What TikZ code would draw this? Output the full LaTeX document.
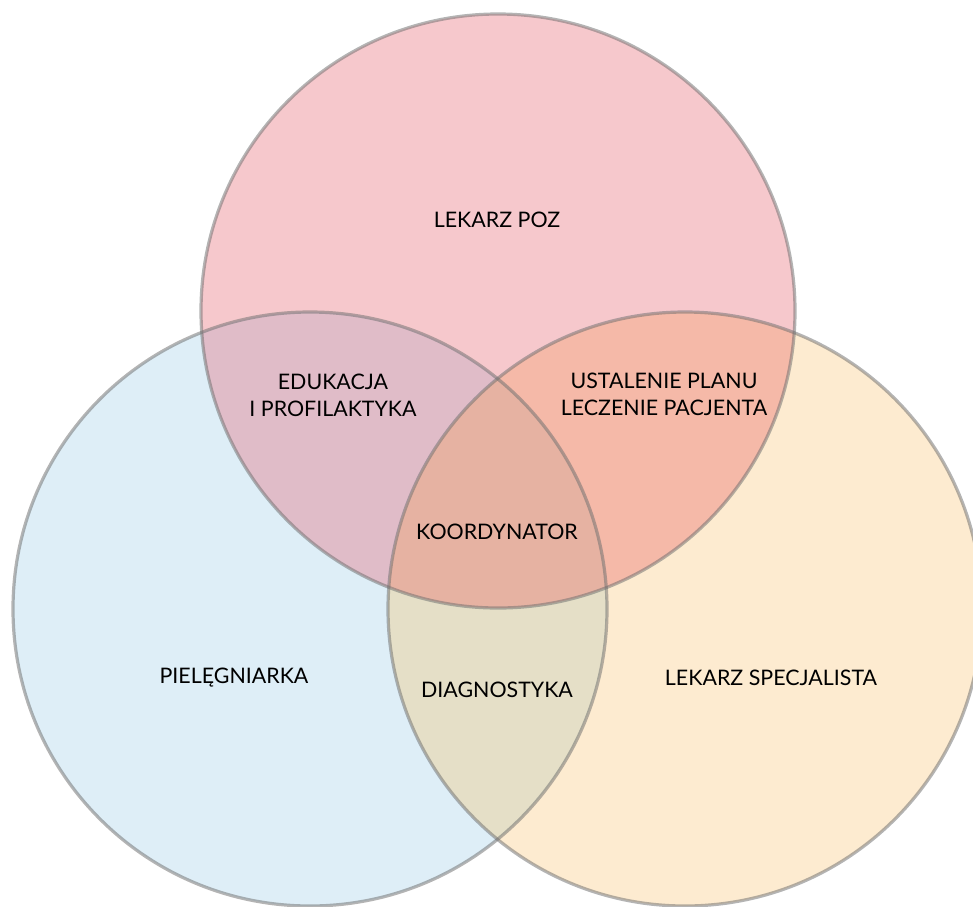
\documentclass[tikz,border=0pt]{standalone}
\usepackage{fontspec}
\setmainfont{Lato}
\definecolor{cpink}{HTML}{F6C8CC}
\definecolor{cblue}{HTML}{DEEEF7}
\definecolor{cyel}{HTML}{FDEBD0}
\definecolor{cpb}{HTML}{E0BCC8}
\definecolor{cpy}{HTML}{F5B9A8}
\definecolor{cby}{HTML}{E5DFC7}
\definecolor{call}{HTML}{E6B2A2}
\definecolor{cline}{HTML}{707070}
\tikzset{
  ring/.style={draw=cline, draw opacity=0.52, line width=1.6pt},
  lbl/.style={font=\fontsize{10.7}{13.6}\selectfont, align=center, text=black, inner sep=0pt}
}
\begin{document}
\begin{tikzpicture}[x=0.5pt,y=-0.5pt]
\useasboundingbox (0,0) rectangle (973,906);
\coordinate (T) at (498,311);
\coordinate (L) at (310,609);
\coordinate (R) at (685,609);
\def\rr{148.5pt}
% base fills
\fill[cblue] (L) circle[radius=\rr];
\fill[cyel] (R) circle[radius=\rr];
\fill[cpink] (T) circle[radius=\rr];
% pairwise overlaps
\begin{scope}
  \clip (T) circle[radius=\rr];
  \fill[cpb] (L) circle[radius=\rr];
  \fill[cpy] (R) circle[radius=\rr];
  \clip (L) circle[radius=\rr];
  \fill[call] (R) circle[radius=\rr];
\end{scope}
\begin{scope}
  \clip (L) circle[radius=\rr];
  \clip (R) circle[radius=\rr];
  \fill[cby] (L) circle[radius=\rr];
  \clip (T) circle[radius=\rr];
  \fill[call] (T) circle[radius=\rr];
\end{scope}
% outlines
\draw[ring] (L) circle[radius=\rr];
\draw[ring] (R) circle[radius=\rr];
\draw[ring] (T) circle[radius=\rr];
% labels
\node[lbl] (poz) at (497,220) {LEKARZ POZ};
\node[lbl] (edu) at (333,395) {EDUKACJA\\I PROFILAKTYKA};
\node[lbl] (plan) at (664,394) {USTALENIE PLANU\\LECZENIE PACJENTA};
\node[lbl] (koord) at (497,532) {KOORDYNATOR};
\node[lbl] (piel) at (234,678) {PIELĘGNIARKA};
\node[lbl] (diag) at (497,690) {DIAGNOSTYKA};
\node[lbl] (spec) at (771,678) {LEKARZ SPECJALISTA};
\end{tikzpicture}
\end{document}
